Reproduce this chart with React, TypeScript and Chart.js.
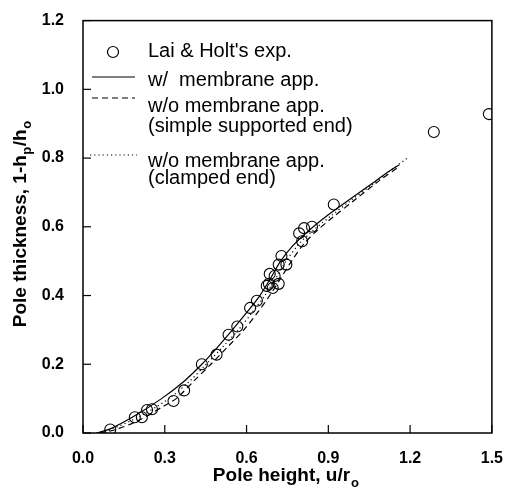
import React, { useEffect, useRef } from 'react';
import { Chart, registerables } from 'chart.js';
Chart.register(...registerables);

// Experimental points (Lai & Holt)
const expX = [0.10, 0.19, 0.216, 0.235, 0.253, 0.332, 0.371, 0.436, 0.49, 0.534, 0.566, 0.613, 0.638, 0.674, 0.682, 0.696, 0.685, 0.703, 0.718, 0.718, 0.728, 0.746, 0.804, 0.793, 0.811, 0.84, 0.92, 1.287, 1.489];
const expY = [0.01, 0.046, 0.046, 0.067, 0.069, 0.093, 0.124, 0.2, 0.228, 0.286, 0.31, 0.364, 0.385, 0.428, 0.434, 0.422, 0.463, 0.457, 0.434, 0.49, 0.515, 0.49, 0.558, 0.581, 0.596, 0.6, 0.665, 0.876, 0.928];

// w/ membrane app. (solid)
const solidX = [0.05, 0.1, 0.19, 0.288, 0.37, 0.436, 0.494, 0.548, 0.6, 0.649, 0.688, 0.725, 0.77, 0.83, 0.9, 0.97, 1.05, 1.12, 1.16];
const solidY = [0.0, 0.012, 0.05, 0.1, 0.15, 0.2, 0.25, 0.3, 0.35, 0.4, 0.45, 0.5, 0.545, 0.59, 0.635, 0.675, 0.72, 0.76, 0.78];

// w/o membrane app. (simple supported end) (dashed)
const dashX = [0.06, 0.12, 0.2, 0.3, 0.342, 0.405, 0.469, 0.53, 0.59, 0.64, 0.685, 0.725, 0.765, 0.81, 0.86, 0.92, 1.0, 1.08, 1.16];
const dashY = [0.0, 0.01, 0.035, 0.08, 0.1, 0.15, 0.2, 0.25, 0.3, 0.35, 0.4, 0.45, 0.5, 0.55, 0.59, 0.63, 0.68, 0.73, 0.775];

// w/o membrane app. (clamped end) (dotted)
const dotX = [0.05, 0.1, 0.2, 0.315, 0.39, 0.452, 0.512, 0.57, 0.62, 0.667, 0.707, 0.745, 0.79, 0.845, 0.91, 0.98, 1.06, 1.13, 1.19];
const dotY = [0.0, 0.01, 0.045, 0.1, 0.15, 0.2, 0.25, 0.3, 0.35, 0.4, 0.45, 0.5, 0.548, 0.59, 0.632, 0.675, 0.722, 0.765, 0.8];

const xTicks = [0, 0.3, 0.6, 0.9, 1.2, 1.5];
const yTicks = [0, 0.2, 0.4, 0.6, 0.8, 1.0, 1.2];

const legendLabels = ["Lai & Holt's exp.", 'w/  membrane app.', 'w/o membrane app.', '(simple supported end)', 'w/o membrane app.', '(clamped end)'];

const FAM = '"Liberation Sans", Arial, Helvetica, sans-serif';

const pts = (xs: number[], ys: number[]) => xs.map((x, i) => ({ x, y: ys[i] }));

const decorPlugin = {
  id: 'decor',
  afterDraw(chart: any) {
    const ctx = chart.ctx as CanvasRenderingContext2D;
    const { left, right, top, bottom } = chart.chartArea;
    const xs = chart.scales.x;
    const ys = chart.scales.y;
    ctx.save();
    ctx.strokeStyle = '#000';
    ctx.fillStyle = '#000';
    // frame
    ctx.lineWidth = 1.5;
    ctx.strokeRect(left, top, right - left, bottom - top);
    // inner ticks
    ctx.lineWidth = 1.2;
    xTicks.forEach((v) => {
      const px = xs.getPixelForValue(v);
      ctx.beginPath();
      ctx.moveTo(px, bottom);
      ctx.lineTo(px, bottom - 8);
      ctx.stroke();
    });
    yTicks.forEach((v) => {
      const py = ys.getPixelForValue(v);
      ctx.beginPath();
      ctx.moveTo(left, py);
      ctx.lineTo(left + 8, py);
      ctx.stroke();
    });

    // legend
    const lx0 = 92, lx1 = 135, tx = 148;
    ctx.font = `20px ${FAM}`;
    ctx.textBaseline = 'middle';
    ctx.textAlign = 'left';
    ctx.lineWidth = 1.2;
    ctx.beginPath();
    ctx.arc(113, 52, 5.5, 0, Math.PI * 2);
    ctx.stroke();
    ctx.fillText(legendLabels[0], tx, 51);
    ctx.setLineDash([]);
    ctx.beginPath(); ctx.moveTo(lx0, 77); ctx.lineTo(lx1, 77); ctx.stroke();
    ctx.fillText(legendLabels[1], tx, 80);
    ctx.setLineDash([6, 4]);
    ctx.beginPath(); ctx.moveTo(lx0, 98); ctx.lineTo(lx1, 98); ctx.stroke();
    ctx.setLineDash([]);
    ctx.fillText(legendLabels[2], tx, 106);
    ctx.fillText(legendLabels[3], tx, 126);
    ctx.setLineDash([1.2, 3]);
    ctx.beginPath(); ctx.moveTo(lx0 - 2, 155); ctx.lineTo(lx1 + 2, 155); ctx.stroke();
    ctx.setLineDash([]);
    ctx.fillText(legendLabels[4], tx, 161);
    ctx.fillText(legendLabels[5], tx, 178);

    // x title with subscript
    const big = `bold 19px ${FAM}`;
    const small = `bold 13px ${FAM}`;
    ctx.textBaseline = 'alphabetic';
    ctx.font = big;
    const xMain = 'Pole height, u/r';
    const wMain = ctx.measureText(xMain).width;
    ctx.font = small;
    const wSub = ctx.measureText('o').width;
    const cx = (left + right) / 2 - 2;
    const sx = cx - (wMain + wSub) / 2;
    ctx.font = big;
    ctx.fillText(xMain, sx, 481);
    ctx.font = small;
    ctx.fillText('o', sx + wMain + 1, 487);

    // y title rotated with subscripts
    const parts: [string, boolean][] = [['Pole thickness, 1-h', false], ['p', true], ['/h', false], ['o', true]];
    let total = 0;
    parts.forEach(([t, sub]) => { ctx.font = sub ? small : big; total += ctx.measureText(t).width + (sub ? 1 : 0); });
    ctx.translate(26, (top + bottom) / 2 - 3);
    ctx.rotate(-Math.PI / 2);
    let pos = -total / 2;
    parts.forEach(([t, sub]) => {
      ctx.font = sub ? small : big;
      ctx.fillText(t, pos + (sub ? 0.5 : 0), sub ? 5 : 0);
      pos += ctx.measureText(t).width + (sub ? 1 : 0);
    });
    ctx.restore();
  },
};

export default function App() {
  const ref = useRef<HTMLCanvasElement | null>(null);
  useEffect(() => {
    if (!ref.current) return;
    const lineDs = (label: string, xs: number[], ys: number[], dash: number[]) => ({
      type: 'line' as const,
      label,
      data: pts(xs, ys),
      borderColor: '#000',
      borderWidth: 1.2,
      borderDash: dash,
      pointRadius: 0,
      fill: false,
      tension: 0.3,
    });
    const chart = new Chart(ref.current, {
      type: 'scatter',
      data: {
        datasets: [
          lineDs('w/ membrane app.', solidX, solidY, []),
          lineDs('w/o membrane app. (simple supported end)', dashX, dashY, [6, 4]),
          lineDs('w/o membrane app. (clamped end)', dotX, dotY, [1.2, 3]),
          {
            type: 'scatter',
            label: "Lai & Holt's exp.",
            data: pts(expX, expY),
            pointStyle: 'circle',
            pointRadius: 5.5,
            borderWidth: 1.1,
            borderColor: '#000',
            backgroundColor: 'rgba(255,255,255,0)',
          } as any,
        ],
      },
      options: {
        responsive: false,
        animation: false,
        events: [],
        layout: { padding: { top: 19, right: 12, left: 0, bottom: 0 } },
        plugins: { legend: { display: false }, tooltip: { enabled: false } },
        scales: {
          x: {
            type: 'linear',
            min: 0,
            max: 1.5,
            afterBuildTicks: (s: any) => { s.ticks = xTicks.map((v) => ({ value: v })); },
            afterFit: (s: any) => { s.height = 57; },
            grid: { display: false },
            border: { display: false },
            ticks: {
              padding: 8,
              color: '#000',
              font: { family: FAM, size: 16, weight: 'bold' },
              maxRotation: 0,
              callback: (v: any) => Number(v).toFixed(1),
            },
          },
          y: {
            type: 'linear',
            min: 0,
            max: 1.2,
            afterBuildTicks: (s: any) => { s.ticks = yTicks.map((v) => ({ value: v })); },
            afterFit: (s: any) => { s.width = 83; },
            grid: { display: false },
            border: { display: false },
            ticks: {
              padding: 11,
              color: '#000',
              font: { family: FAM, size: 16, weight: 'bold' },
              callback: (v: any) => Number(v).toFixed(1),
            },
          },
        },
      },
      plugins: [decorPlugin],
    });
    return () => chart.destroy();
  }, []);
  return (
    <div style={{ position: 'fixed', left: 0, top: 0, width: 511, height: 490, background: '#fff' }}>
      <canvas ref={ref} width={511} height={490} style={{ width: 511, height: 490, display: 'block' }} />
    </div>
  );
}
